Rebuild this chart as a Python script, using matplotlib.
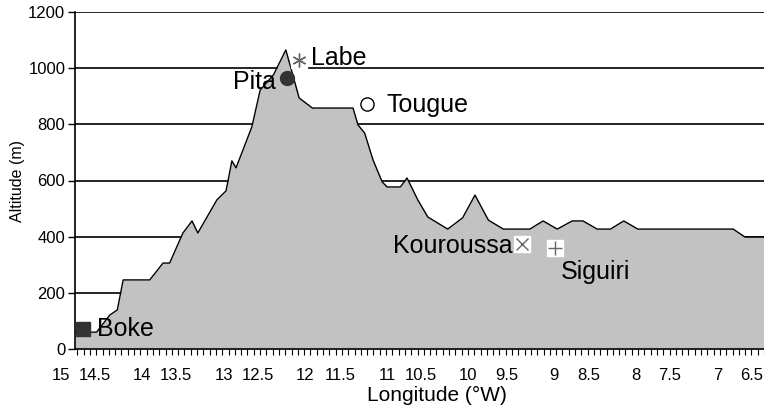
import matplotlib
matplotlib.use("Agg")
import matplotlib.pyplot as plt
import numpy as np
from matplotlib.transforms import blended_transform_factory

# elevation profile along the transect (longitude in degrees W, altitude in m)
profile_lon = [14.939, 14.674, 14.512, 14.420, 14.348, 14.022, 13.859, 13.778, 13.615, 13.503,
               13.432, 13.198, 13.086, 13.014, 12.963, 12.769, 12.667, 12.504, 12.352, 12.260,
               12.189, 12.026, 11.528, 11.467, 11.385, 11.282, 11.170, 11.109, 10.947, 10.865,
               10.733, 10.610, 10.366, 10.183, 10.031, 9.867, 9.684, 9.358, 9.195, 9.022,
               8.838, 8.706, 8.532, 8.369, 8.206, 8.033, 6.863, 6.720, 6.485]
profile_alt = [60, 60, 121, 139, 246, 246, 306, 306, 413, 456,
               413, 531, 563, 670, 645, 791, 922, 976, 1065, 969,
               894, 858, 858, 798, 769, 673, 595, 577, 577, 609,
               531, 470, 427, 467, 548, 459, 427, 427, 456, 427,
               456, 456, 427, 427, 456, 427, 427, 399, 399]

# stations
site_names = ["Boke", "Pita", "Labe", "Tougue", "Kouroussa", "Siguiri"]
site_lon = [14.837, 12.342, 12.189, 11.355, 9.452, 9.053]
site_alt = [71, 965, 1029, 872, 374, 360]

tick_lons = [15, 14.5, 14, 13.5, 13, 12.5, 12, 11.5, 11, 10.5, 10, 9.5, 9, 8.5, 8, 7.5, 7, 6.5]
y_ticks = [0, 200, 400, 600, 800, 1000, 1200]

plt.rcParams["font.family"] = ["Liberation Sans", "DejaVu Sans"]

fig = plt.figure(figsize=(7.64, 4.09), dpi=100)
ax = fig.add_axes([75 / 764, 60 / 409, 689 / 764, 337 / 409])

ax.set_xlim(14.939, 6.485)
ax.set_ylim(0, 1200)

for y in y_ticks[1:]:
    ax.axhline(y, color="black", lw=1.2, zorder=1)

ax.fill_between(profile_lon, profile_alt, 0, color="#c2c2c2", lw=0, zorder=2)
ax.plot(profile_lon, profile_alt, color="black", lw=1.0, zorder=3)

dark = "#333333"
grey = "#666666"

# Boke
ax.plot(site_lon[0], site_alt[0], marker="s", ms=10.5, color=dark, zorder=5, clip_on=False)
# Pita
ax.plot(site_lon[1], site_alt[1], marker="o", ms=10, color=dark, zorder=5)
# Labe
ax.plot(site_lon[2], site_alt[2], marker="s", ms=11, color="white", zorder=4)
ax.plot(site_lon[2], site_alt[2], marker=(6, 2, 0), ms=10, color=grey, mew=1.0, zorder=5)
# Tougue
ax.plot(site_lon[3], site_alt[3], marker="o", ms=9.5, mfc="white", mec="black", mew=1.0, zorder=5)
# Kouroussa
ax.plot(site_lon[4], site_alt[4], marker="s", ms=12, color="white", zorder=4)
ax.plot(site_lon[4], site_alt[4], marker="x", ms=9, color=grey, mew=1.0, zorder=5)
# Siguiri
ax.plot(site_lon[5], site_alt[5], marker="s", ms=12, color="white", zorder=4)
ax.plot(site_lon[5], site_alt[5], marker="+", ms=10, color=grey, mew=1.0, zorder=5)

label_offsets = [(14, 0, "left"), (-11, -4, "right"), (12, 2, "left"),
                 (19, -1, "left"), (-10, -2, "right"), (6, -24, "left")]
for name, lon, alt, (dx, dy, ha) in zip(site_names, site_lon, site_alt, label_offsets):
    ax.annotate(name, (lon, alt), xytext=(dx, dy), textcoords="offset pixels",
                ha=ha, va="center", fontsize=18, zorder=6)

# axes styling
for side in ["top", "right"]:
    ax.spines[side].set_visible(False)
ax.spines["left"].set_linewidth(1.2)
ax.spines["bottom"].set_linewidth(1.2)
ax.spines["bottom"].set_zorder(4)

ax.set_yticks(y_ticks)
ax.tick_params(axis="y", direction="out", length=5, width=1.0, pad=2, labelsize=12)

ax.set_xticks(np.arange(6.485, 14.94, 0.0773))
ax.tick_params(axis="x", direction="out", length=4, width=0.8, labelbottom=False)

# longitude labels sit right-aligned on their positions
trans = blended_transform_factory(ax.transData, ax.transAxes)
for lon in tick_lons:
    ax.annotate(f"{lon:g}", (lon, -0.079), xycoords=trans, xytext=(0, 0),
                textcoords="offset pixels", ha="right", va="center",
                fontsize=12, annotation_clip=False)

fig.text(437 / 764, 1 - 395 / 409, "Longitude (\u00b0W)", ha="center", va="center", fontsize=15)
fig.text(18 / 764, 1 - 181 / 409, "Altitude (m)", ha="center", va="center",
         rotation=90, fontsize=11.5)

fig.savefig("out.png", dpi=100)
